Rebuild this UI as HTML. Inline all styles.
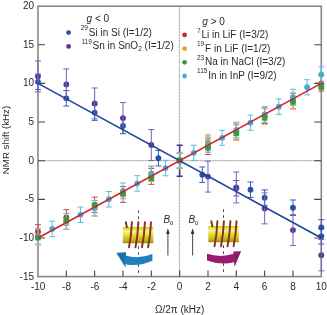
<!DOCTYPE html>
<html><head><meta charset="utf-8"><style>
html,body{margin:0;padding:0;background:#fff;}
svg{display:block;will-change:transform;}
text{font-family:"Liberation Sans",sans-serif;font-size:10px;fill:#2a2a2a;}
</style></head><body>
<svg width="327" height="315" viewBox="0 0 327 315">
<defs>
<linearGradient id="cyl" x1="0" y1="0" x2="0" y2="1">
<stop offset="0" stop-color="#c8c020"/>
<stop offset="0.1" stop-color="#e6de30"/>
<stop offset="0.26" stop-color="#f4f0a8"/>
<stop offset="0.4" stop-color="#eee650"/>
<stop offset="0.6" stop-color="#d8d028"/>
<stop offset="0.82" stop-color="#c0b420"/>
<stop offset="1" stop-color="#98880c"/>
</linearGradient>
</defs>
<rect width="327" height="315" fill="#fff"/>
<path d="M38 160.7H321.3" stroke="#bababa" stroke-width="1.3" stroke-dasharray="2.6 0.45"/><path d="M179.45 6.2V276.6" stroke="#bababa" stroke-width="1.3" stroke-dasharray="2.6 0.45"/>

<text x="86.6" y="22"><tspan font-style="italic">g</tspan> &lt; 0</text>
<circle cx="68.6" cy="32.6" r="2.4" fill="#2b4fa6"/>
<circle cx="68.6" cy="46.4" r="2.4" fill="#553a96"/>
<text x="80.7" y="35.6"><tspan style="font-size:6.5px" dy="-5.5">29</tspan><tspan dy="5.5" dx="0.8">Si in Si (I=1/2)</tspan></text>
<text x="81.4" y="49"><tspan style="font-size:6.5px" dy="-5.5">119</tspan><tspan dy="5.5" dx="0.8">Sn in SnO</tspan><tspan style="font-size:6.5px" dy="2">2</tspan><tspan dy="-2"> (I=1/2)</tspan></text>
<text x="202.3" y="24.9"><tspan font-style="italic">g</tspan> &gt; 0</text>
<circle cx="184.6" cy="34.9" r="2.4" fill="#c9283a"/>
<circle cx="184.6" cy="48.6" r="2.4" fill="#e8a12a"/>
<circle cx="184.6" cy="62.3" r="2.4" fill="#2f9e42"/>
<circle cx="184.6" cy="76" r="2.4" fill="#45aed3"/>
<text x="197" y="38.0"><tspan style="font-size:6.5px" dy="-5.5">7</tspan><tspan dy="5.5" dx="0.8">Li in LiF (I=3/2)</tspan></text>
<text x="197" y="51.6"><tspan style="font-size:6.5px" dy="-5.5">19</tspan><tspan dy="5.5" dx="0.8">F in LiF (I=1/2)</tspan></text>
<text x="197" y="65.2"><tspan style="font-size:6.5px" dy="-5.5">23</tspan><tspan dy="5.5" dx="0.8">Na in NaCl (I=3/2)</tspan></text>
<text x="197" y="78.8"><tspan style="font-size:6.5px" dy="-5.5">115</tspan><tspan dy="5.5" dx="0.8">In in InP (I=9/2)</tspan></text>


<path d="M138.5 210.3V274" stroke="#444" stroke-width="1" stroke-dasharray="2.6 3.4"/>
<path d="M223.5 209.3V274" stroke="#444" stroke-width="1" stroke-dasharray="2.6 3.4"/>
<g transform="translate(0,0)">
<rect x="122.8" y="227.1" width="30.5" height="16.1" fill="url(#cyl)"/>
<path d="M125.8 222.3L126.9 227.3M131.9 222.3Q131.3 236 129 247.3M138.4 222.3Q137.8 236 135.5 247.3M144.9 222.3Q144.3 236 142 247.3M151 222.3Q150.4 236 148.1 247.3" stroke="#8a2e14" stroke-width="1.9" stroke-linecap="round" fill="none"/>
</g>
<g transform="translate(85.5,-1)">
<rect x="122.8" y="227.1" width="30.5" height="16.1" fill="url(#cyl)"/>
<path d="M125.8 222.3L126.9 227.3M131.9 222.3Q131.3 236 129 247.3M138.4 222.3Q137.8 236 135.5 247.3M144.9 222.3Q144.3 236 142 247.3M151 222.3Q150.4 236 148.1 247.3" stroke="#8a2e14" stroke-width="1.9" stroke-linecap="round" fill="none"/>
</g>
<path d="M125.5 255.4Q139 259.5 152.4 254L152.4 260.8Q139 267 125.5 264.2Z" fill="#1f80bb"/>
<path d="M116.3 252.7L126.1 252.3L125.5 267.5Z" fill="#1a70a8"/>
<path d="M207 253.8Q221 258 233.8 253.8L234 262.3Q221 265.5 207 260.4Z" fill="#9a1a70"/>
<path d="M233.3 251.6L241.1 251.2L234.5 267Z" fill="#8e1868"/>
<text x="163.6" y="222.5" font-style="italic">B</text><text x="169.9" y="225.3" style="font-size:5.8px">0</text>
<text x="188.6" y="222.5" font-style="italic">B</text><text x="194.9" y="225.3" style="font-size:5.8px">0</text>
<path d="M167.9 233V255.6M192.6 233V255.6" stroke="#555" stroke-width="1.1"/>
<path d="M166.1 234L167.9 228.3L169.7 234ZM190.8 234L192.6 228.3L194.4 234Z" fill="#333"/>

<rect x="38" y="6.2" width="283.3" height="270.4" fill="none" stroke="#888" stroke-width="1.6"/><path d="M38 44.75h7M321.3 44.75h-7 M38 83.40h7M321.3 83.40h-7 M38 122.05h7M321.3 122.05h-7 M38 160.70h7M321.3 160.70h-7 M38 199.35h7M321.3 199.35h-7 M38 238.00h7M321.3 238.00h-7 M66.33 276.6v-6 M94.66 276.6v-6 M122.99 276.6v-6 M151.32 276.6v-6 M179.65 276.6v-6 M207.98 276.6v-6 M236.31 276.6v-6 M264.64 276.6v-6 M292.97 276.6v-6" stroke="#444" stroke-width="1.1"/>
<path d="M66.33 90.59V106.05M63.33 90.59h6M63.33 106.05h6" stroke="#3a5cb0" stroke-width="1" fill="none"/>
<path d="M94.66 104.89V120.35M91.66 104.89h6M91.66 120.35h6" stroke="#3a5cb0" stroke-width="1" fill="none"/>
<path d="M122.99 118.26V133.72M119.99 118.26h6M119.99 133.72h6" stroke="#3a5cb0" stroke-width="1" fill="none"/>
<path d="M158.40 150.50V165.96M155.40 150.50h6M155.40 165.96h6" stroke="#3a5cb0" stroke-width="1" fill="none"/>
<path d="M202.31 166.96V182.42M199.31 166.96h6M199.31 182.42h6" stroke="#3a5cb0" stroke-width="1" fill="none"/>
<path d="M236.31 180.49V195.95M233.31 180.49h6M233.31 195.95h6" stroke="#3a5cb0" stroke-width="1" fill="none"/>
<path d="M250.47 181.96V197.42M247.47 181.96h6M247.47 197.42h6" stroke="#3a5cb0" stroke-width="1" fill="none"/>
<path d="M264.64 189.92V205.38M261.64 189.92h6M261.64 205.38h6" stroke="#3a5cb0" stroke-width="1" fill="none"/>
<path d="M292.97 199.97V215.43M289.97 199.97h6M289.97 215.43h6" stroke="#3a5cb0" stroke-width="1" fill="none"/>
<path d="M321.30 219.68V235.14M318.30 219.68h6M318.30 235.14h6" stroke="#3a5cb0" stroke-width="1" fill="none"/>
<path d="M321.30 228.57V244.03M318.30 228.57h6M318.30 244.03h6" stroke="#3a5cb0" stroke-width="1" fill="none"/><circle cx="66.33" cy="98.32" r="2.9" fill="#2b4fa6"/>
<circle cx="94.66" cy="112.62" r="2.9" fill="#2b4fa6"/>
<circle cx="122.99" cy="125.99" r="2.9" fill="#2b4fa6"/>
<circle cx="158.40" cy="158.23" r="2.9" fill="#2b4fa6"/>
<circle cx="202.31" cy="174.69" r="2.9" fill="#2b4fa6"/>
<circle cx="236.31" cy="188.22" r="2.9" fill="#2b4fa6"/>
<circle cx="250.47" cy="189.69" r="2.9" fill="#2b4fa6"/>
<circle cx="264.64" cy="197.65" r="2.9" fill="#2b4fa6"/>
<circle cx="292.97" cy="207.70" r="2.9" fill="#2b4fa6"/>
<circle cx="321.30" cy="227.41" r="2.9" fill="#2b4fa6"/>
<circle cx="321.30" cy="236.30" r="2.9" fill="#2b4fa6"/><circle cx="38.00" cy="76.44" r="2.9" fill="#553a96"/>
<circle cx="66.33" cy="84.40" r="2.9" fill="#553a96"/>
<circle cx="94.66" cy="103.42" r="2.9" fill="#553a96"/>
<circle cx="122.99" cy="118.03" r="2.9" fill="#553a96"/>
<circle cx="151.32" cy="145.01" r="2.9" fill="#553a96"/>
<circle cx="179.65" cy="160.70" r="2.9" fill="#553a96"/>
<circle cx="207.98" cy="176.62" r="2.9" fill="#553a96"/>
<circle cx="236.31" cy="187.45" r="2.9" fill="#553a96"/>
<circle cx="264.64" cy="208.39" r="2.9" fill="#553a96"/>
<circle cx="292.97" cy="230.12" r="2.9" fill="#553a96"/>
<circle cx="321.30" cy="255.16" r="2.9" fill="#553a96"/><path d="M38.00 74.12V89.58M35.00 74.12h6M35.00 89.58h6" stroke="#3a5cb0" stroke-width="1" fill="none"/><circle cx="38.00" cy="81.85" r="2.9" fill="#2b4fa6"/><path d="M38.00 60.98V91.90M35.00 60.98h6M35.00 91.90h6" stroke="#7a62b4" stroke-width="1" fill="none"/>
<path d="M66.33 68.94V99.86M63.33 68.94h6M63.33 99.86h6" stroke="#7a62b4" stroke-width="1" fill="none"/>
<path d="M94.66 87.96V118.88M91.66 87.96h6M91.66 118.88h6" stroke="#7a62b4" stroke-width="1" fill="none"/>
<path d="M122.99 102.57V133.49M119.99 102.57h6M119.99 133.49h6" stroke="#7a62b4" stroke-width="1" fill="none"/>
<path d="M151.32 129.55V160.47M148.32 129.55h6M148.32 160.47h6" stroke="#7a62b4" stroke-width="1" fill="none"/>
<path d="M207.98 161.16V192.08M204.98 161.16h6M204.98 192.08h6" stroke="#7a62b4" stroke-width="1" fill="none"/>
<path d="M236.31 171.99V202.91M233.31 171.99h6M233.31 202.91h6" stroke="#7a62b4" stroke-width="1" fill="none"/>
<path d="M264.64 192.93V223.85M261.64 192.93h6M261.64 223.85h6" stroke="#7a62b4" stroke-width="1" fill="none"/>
<path d="M292.97 214.66V245.58M289.97 214.66h6M289.97 245.58h6" stroke="#7a62b4" stroke-width="1" fill="none"/>
<path d="M321.30 239.47V270.85M318.30 239.47h6M318.30 270.85h6" stroke="#7a62b4" stroke-width="1" fill="none"/><path d="M179.65 145.24V176.16M176.65 145.24h6M176.65 176.16h6" stroke="#4a3090" stroke-width="1.5" fill="none"/><path d="M38.00 224.70V238.62M35.00 224.70h6M35.00 238.62h6" stroke="#d9404c" stroke-width="1" fill="none"/>
<path d="M66.33 209.63V225.09M63.33 209.63h6M63.33 225.09h6" stroke="#d9404c" stroke-width="1" fill="none"/>
<path d="M94.66 197.11V212.57M91.66 197.11h6M91.66 212.57h6" stroke="#d9404c" stroke-width="1" fill="none"/>
<path d="M122.99 186.44V202.36M119.99 186.44h6M119.99 202.36h6" stroke="#d9404c" stroke-width="1" fill="none"/>
<path d="M151.32 168.43V184.35M148.32 168.43h6M148.32 184.35h6" stroke="#d9404c" stroke-width="1" fill="none"/>
<path d="M179.65 152.97V168.43M176.65 152.97h6M176.65 168.43h6" stroke="#d9404c" stroke-width="1" fill="none"/>
<path d="M207.98 137.97V154.52M204.98 137.97h6M204.98 154.52h6" stroke="#d9404c" stroke-width="1" fill="none"/>
<path d="M236.31 123.91V139.21M233.31 123.91h6M233.31 139.21h6" stroke="#d9404c" stroke-width="1" fill="none"/>
<path d="M264.64 107.98V123.44M261.64 107.98h6M261.64 123.44h6" stroke="#d9404c" stroke-width="1" fill="none"/>
<path d="M292.97 93.29V108.75M289.97 93.29h6M289.97 108.75h6" stroke="#d9404c" stroke-width="1" fill="none"/>
<path d="M321.30 75.67V91.13M318.30 75.67h6M318.30 91.13h6" stroke="#d9404c" stroke-width="1" fill="none"/><circle cx="38.00" cy="231.66" r="2.9" fill="#c9283a"/>
<circle cx="66.33" cy="217.36" r="2.9" fill="#c9283a"/>
<circle cx="94.66" cy="204.84" r="2.9" fill="#c9283a"/>
<circle cx="122.99" cy="194.40" r="2.9" fill="#c9283a"/>
<circle cx="151.32" cy="176.39" r="2.9" fill="#c9283a"/>
<circle cx="179.65" cy="160.70" r="2.9" fill="#c9283a"/>
<circle cx="207.98" cy="146.24" r="2.9" fill="#c9283a"/>
<circle cx="236.31" cy="131.56" r="2.9" fill="#c9283a"/>
<circle cx="264.64" cy="115.71" r="2.9" fill="#c9283a"/>
<circle cx="292.97" cy="101.02" r="2.9" fill="#c9283a"/>
<circle cx="321.30" cy="83.40" r="2.9" fill="#c9283a"/><path d="M38.00 228.72V245.27M35.00 228.72h6M35.00 245.27h6" stroke="#eeb04a" stroke-width="1" fill="none"/>
<path d="M66.33 213.65V229.11M63.33 213.65h6M63.33 229.11h6" stroke="#eeb04a" stroke-width="1" fill="none"/>
<path d="M94.66 200.51V216.28M91.66 200.51h6M91.66 216.28h6" stroke="#eeb04a" stroke-width="1" fill="none"/>
<path d="M122.99 191.31V195.95M119.99 191.31h6M119.99 195.95h6" stroke="#eeb04a" stroke-width="1" fill="none"/>
<path d="M151.32 165.88V181.49M148.32 165.88h6M148.32 181.49h6" stroke="#eeb04a" stroke-width="1" fill="none"/>
<path d="M179.65 152.97V168.43M176.65 152.97h6M176.65 168.43h6" stroke="#eeb04a" stroke-width="1" fill="none"/>
<path d="M207.98 134.26V148.18M204.98 134.26h6M204.98 148.18h6" stroke="#eeb04a" stroke-width="1" fill="none"/>
<path d="M236.31 125.14V140.45M233.31 125.14h6M233.31 140.45h6" stroke="#eeb04a" stroke-width="1" fill="none"/>
<path d="M264.64 108.99V124.60M261.64 108.99h6M261.64 124.60h6" stroke="#eeb04a" stroke-width="1" fill="none"/>
<path d="M292.97 92.99V108.91M289.97 92.99h6M289.97 108.91h6" stroke="#eeb04a" stroke-width="1" fill="none"/>
<path d="M321.30 84.56V89.20M318.30 84.56h6M318.30 89.20h6" stroke="#eeb04a" stroke-width="1" fill="none"/><circle cx="38.00" cy="237.00" r="2.9" fill="#e8a12a"/>
<circle cx="66.33" cy="221.38" r="2.9" fill="#e8a12a"/>
<circle cx="94.66" cy="208.39" r="2.9" fill="#e8a12a"/>
<circle cx="122.99" cy="193.63" r="2.9" fill="#e8a12a"/>
<circle cx="151.32" cy="173.69" r="2.9" fill="#e8a12a"/>
<circle cx="179.65" cy="160.70" r="2.9" fill="#e8a12a"/>
<circle cx="207.98" cy="141.22" r="2.9" fill="#e8a12a"/>
<circle cx="236.31" cy="132.79" r="2.9" fill="#e8a12a"/>
<circle cx="264.64" cy="116.79" r="2.9" fill="#e8a12a"/>
<circle cx="292.97" cy="100.95" r="2.9" fill="#e8a12a"/>
<circle cx="321.30" cy="86.88" r="2.9" fill="#e8a12a"/><path d="M38.00 228.34V243.80M35.00 228.34h6M35.00 243.80h6" stroke="#5cbce0" stroke-width="1" fill="none"/>
<path d="M52.17 221.23V236.69M49.17 221.23h6M49.17 236.69h6" stroke="#5cbce0" stroke-width="1" fill="none"/>
<path d="M66.33 213.50V229.27M63.33 213.50h6M63.33 229.27h6" stroke="#5cbce0" stroke-width="1" fill="none"/>
<path d="M80.50 207.08V222.54M77.50 207.08h6M77.50 222.54h6" stroke="#5cbce0" stroke-width="1" fill="none"/>
<path d="M94.66 200.35V215.81M91.66 200.35h6M91.66 215.81h6" stroke="#5cbce0" stroke-width="1" fill="none"/>
<path d="M108.83 191.47V206.93M105.83 191.47h6M105.83 206.93h6" stroke="#5cbce0" stroke-width="1" fill="none"/>
<path d="M122.99 182.96V198.73M119.99 182.96h6M119.99 198.73h6" stroke="#5cbce0" stroke-width="1" fill="none"/>
<path d="M137.16 175.70V191.16M134.16 175.70h6M134.16 191.16h6" stroke="#5cbce0" stroke-width="1" fill="none"/>
<path d="M151.32 166.73V180.64M148.32 166.73h6M148.32 180.64h6" stroke="#5cbce0" stroke-width="1" fill="none"/>
<path d="M165.49 160.31V175.77M162.49 160.31h6M162.49 175.77h6" stroke="#5cbce0" stroke-width="1" fill="none"/>
<path d="M179.65 153.59V167.81M176.65 153.59h6M176.65 167.81h6" stroke="#5cbce0" stroke-width="1" fill="none"/>
<path d="M193.81 145.24V160.39M190.81 145.24h6M190.81 160.39h6" stroke="#5cbce0" stroke-width="1" fill="none"/>
<path d="M207.98 135.96V152.20M204.98 135.96h6M204.98 152.20h6" stroke="#5cbce0" stroke-width="1" fill="none"/>
<path d="M222.15 130.32V145.32M219.15 130.32h6M219.15 145.32h6" stroke="#5cbce0" stroke-width="1" fill="none"/>
<path d="M236.31 122.13V137.43M233.31 122.13h6M233.31 137.43h6" stroke="#5cbce0" stroke-width="1" fill="none"/>
<path d="M250.47 115.09V130.24M247.47 115.09h6M247.47 130.24h6" stroke="#5cbce0" stroke-width="1" fill="none"/>
<path d="M264.64 106.59V122.36M261.64 106.59h6M261.64 122.36h6" stroke="#5cbce0" stroke-width="1" fill="none"/>
<path d="M278.81 99.01V114.32M275.81 99.01h6M275.81 114.32h6" stroke="#5cbce0" stroke-width="1" fill="none"/>
<path d="M292.97 89.27V105.20M289.97 89.27h6M289.97 105.20h6" stroke="#5cbce0" stroke-width="1" fill="none"/>
<path d="M307.13 79.69V94.84M304.13 79.69h6M304.13 94.84h6" stroke="#5cbce0" stroke-width="1" fill="none"/>
<path d="M321.30 66.86V82.32M318.30 66.86h6M318.30 82.32h6" stroke="#5cbce0" stroke-width="1" fill="none"/><circle cx="38.00" cy="236.07" r="2.9" fill="#45aed3"/>
<circle cx="52.17" cy="228.96" r="2.9" fill="#45aed3"/>
<circle cx="66.33" cy="221.38" r="2.9" fill="#45aed3"/>
<circle cx="80.50" cy="214.81" r="2.9" fill="#45aed3"/>
<circle cx="94.66" cy="208.08" r="2.9" fill="#45aed3"/>
<circle cx="108.83" cy="199.20" r="2.9" fill="#45aed3"/>
<circle cx="122.99" cy="190.85" r="2.9" fill="#45aed3"/>
<circle cx="137.16" cy="183.43" r="2.9" fill="#45aed3"/>
<circle cx="151.32" cy="173.69" r="2.9" fill="#45aed3"/>
<circle cx="165.49" cy="168.04" r="2.9" fill="#45aed3"/>
<circle cx="179.65" cy="160.70" r="2.9" fill="#45aed3"/>
<circle cx="193.81" cy="152.82" r="2.9" fill="#45aed3"/>
<circle cx="207.98" cy="144.08" r="2.9" fill="#45aed3"/>
<circle cx="222.15" cy="137.82" r="2.9" fill="#45aed3"/>
<circle cx="236.31" cy="129.78" r="2.9" fill="#45aed3"/>
<circle cx="250.47" cy="122.67" r="2.9" fill="#45aed3"/>
<circle cx="264.64" cy="114.47" r="2.9" fill="#45aed3"/>
<circle cx="278.81" cy="106.67" r="2.9" fill="#45aed3"/>
<circle cx="292.97" cy="97.24" r="2.9" fill="#45aed3"/>
<circle cx="307.13" cy="87.26" r="2.9" fill="#45aed3"/>
<circle cx="321.30" cy="74.59" r="2.9" fill="#45aed3"/><path d="M38.00 235.22V239.86M35.00 235.22h6M35.00 239.86h6" stroke="#4aae5a" stroke-width="1" fill="none"/>
<path d="M66.33 217.52V222.15M63.33 217.52h6M63.33 222.15h6" stroke="#4aae5a" stroke-width="1" fill="none"/>
<path d="M94.66 202.91V207.54M91.66 202.91h6M91.66 207.54h6" stroke="#4aae5a" stroke-width="1" fill="none"/>
<path d="M122.99 191.00V195.64M119.99 191.00h6M119.99 195.64h6" stroke="#4aae5a" stroke-width="1" fill="none"/>
<path d="M151.32 175.93V180.57M148.32 175.93h6M148.32 180.57h6" stroke="#4aae5a" stroke-width="1" fill="none"/>
<path d="M179.65 157.99V162.63M176.65 157.99h6M176.65 162.63h6" stroke="#4aae5a" stroke-width="1" fill="none"/>
<path d="M207.98 145.47V150.11M204.98 145.47h6M204.98 150.11h6" stroke="#4aae5a" stroke-width="1" fill="none"/>
<path d="M236.31 130.94V135.58M233.31 130.94h6M233.31 135.58h6" stroke="#4aae5a" stroke-width="1" fill="none"/>
<path d="M264.64 115.48V120.12M261.64 115.48h6M261.64 120.12h6" stroke="#4aae5a" stroke-width="1" fill="none"/>
<path d="M292.97 99.48V104.12M289.97 99.48h6M289.97 104.12h6" stroke="#4aae5a" stroke-width="1" fill="none"/>
<path d="M321.30 84.56V89.20M318.30 84.56h6M318.30 89.20h6" stroke="#4aae5a" stroke-width="1" fill="none"/><circle cx="38.00" cy="237.54" r="2.9" fill="#2f9e42"/>
<circle cx="66.33" cy="219.83" r="2.9" fill="#2f9e42"/>
<circle cx="94.66" cy="205.22" r="2.9" fill="#2f9e42"/>
<circle cx="122.99" cy="193.32" r="2.9" fill="#2f9e42"/>
<circle cx="151.32" cy="178.25" r="2.9" fill="#2f9e42"/>
<circle cx="179.65" cy="160.31" r="2.9" fill="#2f9e42"/>
<circle cx="207.98" cy="147.79" r="2.9" fill="#2f9e42"/>
<circle cx="236.31" cy="133.26" r="2.9" fill="#2f9e42"/>
<circle cx="264.64" cy="117.80" r="2.9" fill="#2f9e42"/>
<circle cx="292.97" cy="101.80" r="2.9" fill="#2f9e42"/>
<circle cx="321.30" cy="86.88" r="2.9" fill="#2f9e42"/>
<path d="M38.00 83.40L321.30 238.00" stroke="#1f45a0" stroke-width="1.6"/><path d="M38.00 238.00L321.30 83.40" stroke="#cc2530" stroke-width="1.6"/>
<text x="34" y="9.00" text-anchor="end">20</text><text x="34" y="47.65" text-anchor="end">15</text><text x="34" y="86.30" text-anchor="end">10</text><text x="34" y="124.95" text-anchor="end">5</text><text x="34" y="163.60" text-anchor="end">0</text><text x="34" y="202.25" text-anchor="end">-5</text><text x="34" y="240.90" text-anchor="end">-10</text><text x="34" y="279.55" text-anchor="end">-15</text><text x="38.20" y="289.6" text-anchor="middle">-10</text><text x="66.53" y="289.6" text-anchor="middle">-8</text><text x="94.86" y="289.6" text-anchor="middle">-6</text><text x="123.19" y="289.6" text-anchor="middle">-4</text><text x="151.52" y="289.6" text-anchor="middle">-2</text><text x="179.65" y="289.6" text-anchor="middle">0</text><text x="207.98" y="289.6" text-anchor="middle">2</text><text x="236.31" y="289.6" text-anchor="middle">4</text><text x="264.64" y="289.6" text-anchor="middle">6</text><text x="292.97" y="289.6" text-anchor="middle">8</text><text x="321.30" y="289.6" text-anchor="middle">10</text>
<text x="179.6" y="313" text-anchor="middle">Ω/2π (kHz)</text>
<text transform="translate(9.3,140) rotate(-90)" text-anchor="middle" style="font-size:9.7px">NMR shift (kHz)</text>
</svg>
</body></html>
